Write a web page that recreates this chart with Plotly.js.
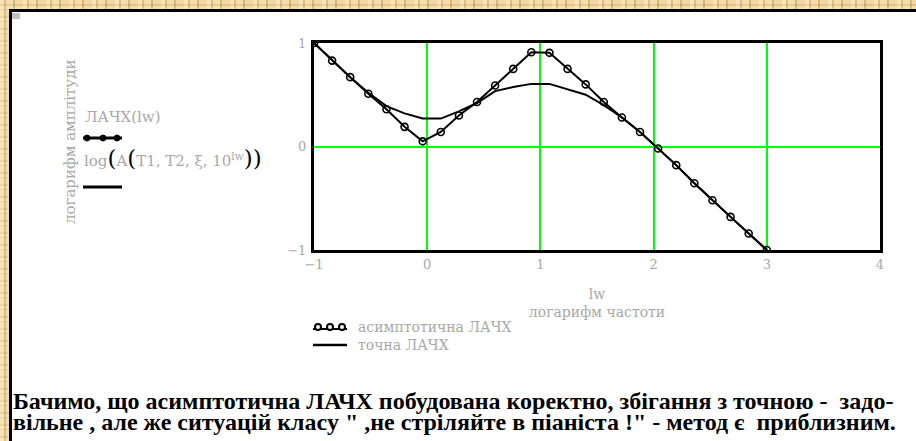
<!DOCTYPE html>
<html>
<head>
<meta charset="utf-8">
<script src="https://cdn.plot.ly/plotly-3.0.1.min.js"></script>
<style>
  html, body { margin: 0; padding: 0; }
  body {
    width: 916px; height: 441px; overflow: hidden; position: relative;
    background-color: #e6ca94;
    background-image:
      repeating-linear-gradient(90deg, rgba(255,240,200,0.55) 0 4px, rgba(190,150,90,0.35) 4px 6px, rgba(255,235,190,0.4) 6px 13px, rgba(170,130,70,0.35) 13px 15px, rgba(250,225,175,0.3) 15px 23px),
      repeating-linear-gradient(0deg, rgba(255,240,200,0.45) 0 3px, rgba(185,145,85,0.35) 3px 5px, rgba(250,230,185,0.35) 5px 11px, rgba(175,135,75,0.3) 11px 12px);
  }
  #sheet {
    position: absolute; left: 9px; top: 9px; right: 0; bottom: 0;
    background: #ffffff;
    border-top: 3px solid #000; border-left: 3px solid #000;
  }
  #corner { position: absolute; left: 12px; top: 13px; width: 8px; height: 6px; background: #c0c0c0; }
  #chart { position: absolute; left: 0; top: 0; width: 916px; height: 441px; }
  #note {
    position: absolute; left: 13px; top: 391px; margin: 0;
    font-family: 'Liberation Serif', serif; font-weight: bold; font-size: 24px;
    line-height: 21px; white-space: pre; color: #000;
  }
</style>
</head>
<body>
<div id="sheet"></div>
<div id="corner"></div>
<div id="chart"></div>
<p id="note"></p>
<script>
// logarithm of frequency, sampled with step 0.16
const lw = [-1, -0.84, -0.68, -0.52, -0.36, -0.2, -0.04, 0.12, 0.28, 0.44, 0.6, 0.76, 0.92,
            1.08, 1.24, 1.4, 1.56, 1.72, 1.88, 2.04, 2.2, 2.36, 2.52, 2.68, 2.84, 3.0];

// asymptotic log-magnitude response (ЛАЧХ)
const lachAsym = [1.0, 0.83, 0.67, 0.51, 0.36, 0.19, 0.05, 0.14, 0.30, 0.43, 0.59, 0.75, 0.91,
                  0.905, 0.75, 0.60, 0.43, 0.28, 0.14, -0.02, -0.18, -0.355, -0.52, -0.68, -0.84, -1.0];

// exact log-magnitude response lg(A(T1, T2, ξ, 10^lw))
const lachExact = [1.0, 0.83, 0.67, 0.52, 0.39, 0.32, 0.27, 0.27, 0.34, 0.42, 0.535, 0.575, 0.605,
                   0.605, 0.55, 0.50, 0.40, 0.28, 0.14, -0.02, -0.18, -0.355, -0.52, -0.68, -0.84, -1.0];

const seriesNames = ['асимптотична ЛАЧХ', 'точна ЛАЧХ'];

const xTicks = [-1, 0, 1, 2, 3, 4];
const yTicks = [-1, 0, 1];

const textLines = [
  'Бачимо, що асимптотична ЛАЧХ побудована коректно, збігання з точною -  задо-',
  'вільне , але же ситуацій класу " ,не стріляйте в піаніста !" - метод є  приблизним.'
];

document.getElementById('note').textContent = textLines.join('\n');

// plot-area geometry in pixels
const W = 916, H = 441;
const M = {l: 314, r: 36, t: 43, b: 191};
const PW = W - M.l - M.r, PH = H - M.t - M.b;
const px = x => (x - M.l) / PW;
const py = y => (H - M.b - y) / PH;

const GRAY = '#a8a8a8';
const LABEL_FONT = 'DejaVu Serif';

const traces = [
  {
    x: lw, y: lachAsym, type: 'scatter', mode: 'lines+markers',
    name: seriesNames[0], showlegend: false,
    line: {color: '#000', width: 2},
    marker: {symbol: 'circle-open', size: 7, color: '#000', line: {width: 1.6, color: '#000'}}
  },
  {
    x: lw, y: lachExact, type: 'scatter', mode: 'lines',
    name: seriesNames[1], showlegend: false,
    line: {color: '#000', width: 2}
  }
];

const paren = s => '<span style="color:#000;font-size:23px">' + s + '</span>';
const pap = (x, y) => ({xref: 'paper', yref: 'paper', x: px(x), y: py(y), showarrow: false});

const annotations = [
  Object.assign(pap(70, 142), {xanchor: 'center', yanchor: 'middle', textangle: -90,
    text: 'логарифм амплітуди', font: {family: LABEL_FONT, size: 15, color: GRAY}}),
  Object.assign(pap(83, 117), {xanchor: 'left', yanchor: 'middle',
    text: 'ЛАЧХ(lw)', font: {family: LABEL_FONT, size: 15, color: GRAY}}),
  Object.assign(pap(82, 158), {xanchor: 'left', yanchor: 'middle',
    text: 'log' + paren('(') + 'A' + paren('(') + 'T1, T2, ξ, 10<sup>lw</sup>' + paren('))'),
    font: {family: LABEL_FONT, size: 15, color: GRAY}})
];

// key below the plot
const keyRows = [327, 345];
seriesNames.forEach((n, i) => annotations.push(Object.assign(pap(356, keyRows[i]), {
  xanchor: 'left', yanchor: 'middle', text: n,
  font: {family: LABEL_FONT, size: 14, color: GRAY}
})));

const hLine = (x0, x1, y, w) => ({type: 'line', xref: 'paper', yref: 'paper',
  x0: px(x0), x1: px(x1), y0: py(y), y1: py(y), line: {color: '#000', width: w}});
const dot = (cx, cy, r, filled) => ({type: 'circle', xref: 'paper', yref: 'paper',
  x0: px(cx - r), x1: px(cx + r), y0: py(cy - r), y1: py(cy + r),
  fillcolor: filled ? '#000' : '#fff', line: {color: '#000', width: filled ? 1 : 2}});

const shapes = [
  hLine(83, 122, 138, 3),
  hLine(83, 122, 187, 3),
  dot(87, 138, 3, true), dot(103, 138, 3, true), dot(117, 138, 3, true),
  hLine(313, 347, keyRows[0] + 2, 2),
  dot(318, keyRows[0], 3, false), dot(330, keyRows[0], 3, false), dot(342, keyRows[0], 3, false),
  hLine(313, 347, keyRows[1], 2.5)
];

const axisCommon = {
  showgrid: true, gridcolor: '#00ff00', gridwidth: 2,
  showline: true, linecolor: '#000', linewidth: 3, mirror: true,
  zeroline: false, ticks: '', fixedrange: true,
  tickfont: {family: LABEL_FONT, size: 13, color: GRAY}
};

const layout = {
  width: W, height: H,
  margin: M,
  paper_bgcolor: 'rgba(0,0,0,0)', plot_bgcolor: '#fff',
  showlegend: false,
  xaxis: Object.assign({}, axisCommon, {
    range: [-1, 4], tickvals: xTicks,
    title: {text: 'lw<br>логарифм частоти', font: {family: LABEL_FONT, size: 14, color: GRAY}, standoff: 19}
  }),
  yaxis: Object.assign({}, axisCommon, {
    range: [-1, 1], tickvals: yTicks, ticklabelstandoff: 2
  }),
  annotations: annotations,
  shapes: shapes
};

Plotly.newPlot('chart', traces, layout, {displayModeBar: false, staticPlot: true});
</script>
</body>
</html>
